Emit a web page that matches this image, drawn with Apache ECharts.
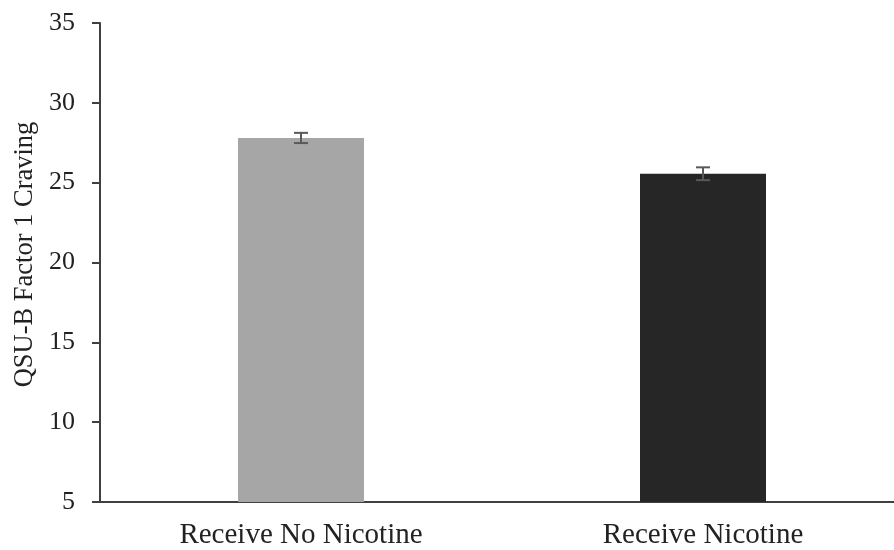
<!DOCTYPE html>
<html>
<head>
<meta charset="utf-8">
<script src="https://cdn.jsdelivr.net/npm/echarts@6/dist/echarts.min.js"></script>
<style>html,body{margin:0;padding:0;background:#fff;overflow:hidden;}#c{width:904px;height:550px;}</style>
</head>
<body>
<div id="c"></div>
<script>
const categories = ['Receive No Nicotine', 'Receive Nicotine'];
const means = [27.8, 25.56];
const errors = [0.32, 0.4];
const barColors = ['#a6a6a6', '#262626'];
const yTicks = [5, 10, 15, 20, 25, 30, 35];

const chart = echarts.init(document.getElementById('c'));
const font = '"Liberation Serif", "Times New Roman", serif';
chart.setOption({
  animation: false,
  grid: { left: 100, right: 0, top: 23, bottom: 47, containLabel: false },
  xAxis: {
    type: 'category',
    data: categories,
    axisLine: { lineStyle: { color: '#404040', width: 2 } },
    axisTick: { show: false },
    axisLabel: { fontFamily: font, fontSize: 29, color: '#222', margin: 19 }
  },
  yAxis: {
    type: 'value',
    min: yTicks[0], max: yTicks[yTicks.length - 1], interval: 5,
    name: 'QSU-B Factor 1 Craving',
    nameLocation: 'middle',
    nameGap: 61,
    nameTextStyle: { fontFamily: font, fontSize: 26.5, color: '#222', padding: [0, 0, 0, 16] },
    axisLine: { show: true, lineStyle: { color: '#404040', width: 2 } },
    axisTick: { show: true, length: 8, lineStyle: { color: '#404040', width: 2 } },
    axisLabel: { fontFamily: font, fontSize: 26, color: '#222', margin: 25 },
    splitLine: { show: false }
  },
  series: [
    {
      type: 'bar',
      barWidth: 126,
      data: means.map((v, i) => ({ value: v, itemStyle: { color: barColors[i] } }))
    },
    {
      type: 'custom',
      z: 10,
      data: means.map((v, i) => [i, v - errors[i], v + errors[i]]),
      renderItem: function (params, api) {
        const lo = api.coord([api.value(0), api.value(1)]);
        const hi = api.coord([api.value(0), api.value(2)]);
        const hw = 7;
        const st = { stroke: '#595959', lineWidth: 2 };
        return {
          type: 'group',
          children: [
            { type: 'line', shape: { x1: lo[0], y1: lo[1], x2: hi[0], y2: hi[1] }, style: st },
            { type: 'line', shape: { x1: lo[0] - hw, y1: lo[1], x2: lo[0] + hw, y2: lo[1] }, style: st },
            { type: 'line', shape: { x1: hi[0] - hw, y1: hi[1], x2: hi[0] + hw, y2: hi[1] }, style: st }
          ]
        };
      }
    }
  ]
});
</script>
</body>
</html>
